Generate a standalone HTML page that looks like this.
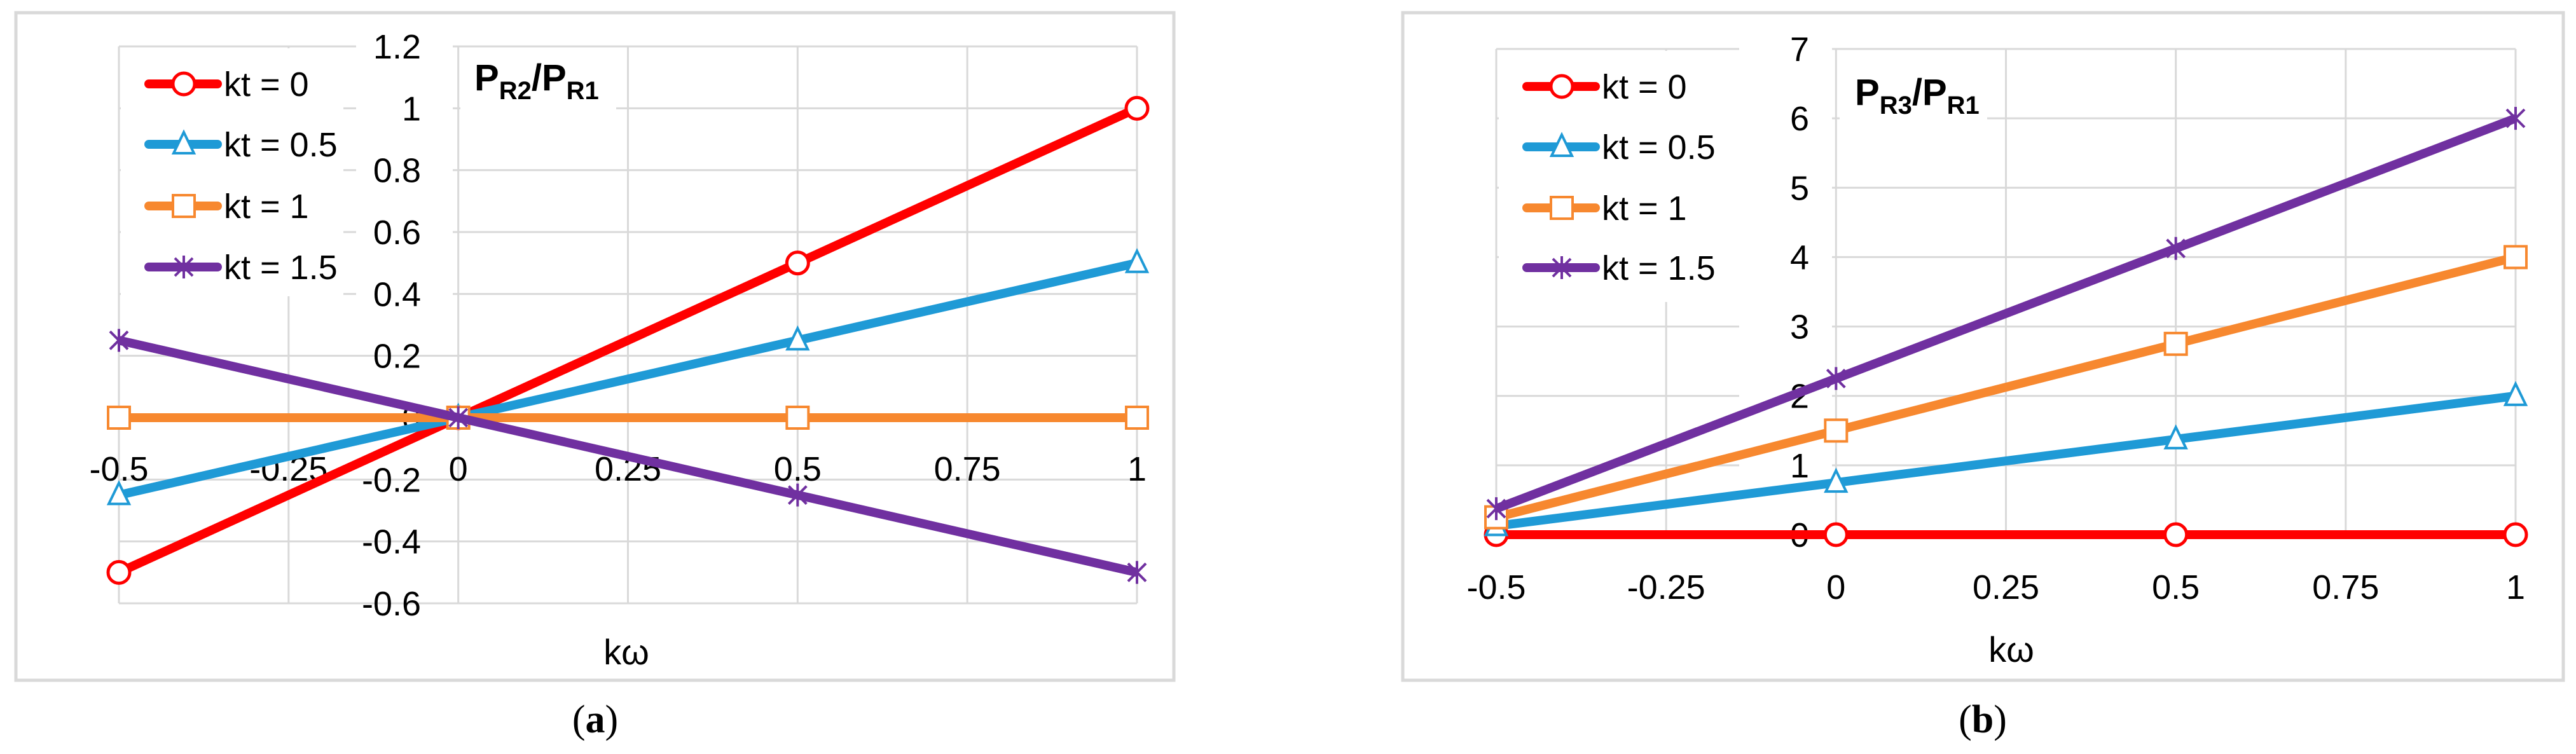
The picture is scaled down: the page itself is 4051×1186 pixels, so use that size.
<!DOCTYPE html>
<html><head><meta charset="utf-8"><style>
html,body{margin:0;padding:0;background:#fff;}
svg{display:block;}
text{font-family:"Liberation Sans",sans-serif;fill:#000;}
</style></head><body>
<svg id="s" width="4051" height="1186" viewBox="0 0 4051 1186" xmlns="http://www.w3.org/2000/svg"></svg>
<script>
// ---- data ----
const xValues = [-0.5, 0, 0.5, 1];
const xTicks = [-0.5, -0.25, 0, 0.25, 0.5, 0.75, 1];
const xTickLabels = ["-0.5","-0.25","0","0.25","0.5","0.75","1"];
const seriesNames = ["kt = 0","kt = 0.5","kt = 1","kt = 1.5"];
const a_kt0 = [-0.5, 0, 0.5, 1];
const a_kt05 = [-0.25, 0, 0.25, 0.5];
const a_kt1 = [0, 0, 0, 0];
const a_kt15 = [0.25, 0, -0.25, -0.5];
const aYTicks = [-0.6,-0.4,-0.2,0,0.2,0.4,0.6,0.8,1,1.2];
const aYTickLabels = ["-0.6","-0.4","-0.2","0","0.2","0.4","0.6","0.8","1","1.2"];
const b_kt0 = [0, 0, 0, 0];
const b_kt05 = [0.125, 0.75, 1.375, 2];
const b_kt1 = [0.25, 1.5, 2.75, 4];
const b_kt15 = [0.375, 2.25, 4.125, 6];
const bYTicks = [0,1,2,3,4,5,6,7];
const bYTickLabels = ["0","1","2","3","4","5","6","7"];

const colors = ["#ff0000","#1f9ad6","#f7882f","#7030a0"];
const markers = ["circle","triangle","square","star"];
const NS = "http://www.w3.org/2000/svg";
const svg = document.getElementById('s');
function el(tag, attrs, parent){
  const e = document.createElementNS(NS, tag);
  for (const k in attrs) e.setAttribute(k, attrs[k]);
  (parent||svg).appendChild(e);
  return e;
}
function marker(type, x, y, color, g){
  let m;
  if (type==="circle") m = el('circle',{cx:x,cy:y,r:17,fill:'#fff',stroke:color,'stroke-width':5},g);
  else if (type==="triangle") m = el('polygon',{points:`${x},${y-19} ${x+16},${y+14} ${x-16},${y+14}`,fill:'#fff',stroke:color,'stroke-width':4},g);
  else if (type==="square") m = el('rect',{x:x-17,y:y-17,width:34,height:34,fill:'#fff',stroke:color,'stroke-width':4},g);
  else {
    m = el('path',{d:`M${x-14},${y-14}L${x+14},${y+14}M${x-14},${y+14}L${x+14},${y-14}M${x},${y-18}L${x},${y+18}`,stroke:color,'stroke-width':4,fill:'none'},g);
  }
  return m;
}

function panel(cfg){
  const {id, bx0, bx1, x0, x1, yMin, yMax, yTop, yBot, yTicks, yTickLabels, series, yLabelX, xLabelY, legendX, legendRows, whiteRects, title, titleX, titleY, xTitleX, xTitleY, capX, cap} = cfg;
  const g = el('g',{});
  
  
  const xs = v => x0 + (v - (-0.5)) / 1.5 * (x1 - x0);
  const ys = v => yBot - (v - yMin) / (yMax - yMin) * (yBot - yTop);
  const border = el('rect',{x:bx0,y:20,width:bx1-bx0,height:1050,fill:'#fff',stroke:'#d9d9d9','stroke-width':5},g);
  
  
  yTicks.forEach(v=>{
    const l = el('line',{x1:x0,x2:x1,y1:ys(v),y2:ys(v),stroke:'#d9d9d9','stroke-width':3},g);
    
    
  });
  xTicks.forEach(v=>{
    const l = el('line',{x1:xs(v),x2:xs(v),y1:yTop,y2:yBot,stroke:'#d9d9d9','stroke-width':3},g);
    
    
  });
  whiteRects.forEach(r=>{ el('rect',{x:r[0],y:r[1],width:r[2],height:r[3],fill:'#fff'},g); });
  yTicks.forEach((v,i)=>{
    const t = el('text',{x:yLabelX,y:ys(v)+19,'text-anchor':'end','font-size':54},g);
    t.textContent = yTickLabels[i];
    
    
  });
  xTicks.forEach((v,i)=>{
    const t = el('text',{x:xs(v),y:xLabelY+19,'text-anchor':'middle','font-size':54},g);
    t.textContent = xTickLabels[i];
    
    
  });
  series.forEach((vals,si)=>{
    const sg = el('g',{},g);
    
    
    const pts = vals.map((v,i)=>xs(xValues[i])+','+ys(v)).join(' ');
    const pl = el('polyline',{points:pts,fill:'none',stroke:colors[si],'stroke-width':14,'stroke-linejoin':'round'},sg);
    
    
    vals.forEach((v,i)=>{
      const m = marker(markers[si], xs(xValues[i]), ys(v), colors[si], sg);
      
      
    });
  });
  seriesNames.forEach((n,si)=>{
    const lg = el('g',{},g);
    
    
    const y = legendRows[si];
    el('line',{x1:legendX,x2:legendX+108,y1:y,y2:y,stroke:colors[si],'stroke-width':14,'stroke-linecap':'round'},lg);
    marker(markers[si], legendX+55, y, colors[si], lg);
    const t = el('text',{x:legendX+118,y:y+19,'font-size':54},lg);
    t.textContent = n;
  });
  const tt = el('text',{x:titleX,y:titleY,'font-size':58,'font-weight':'bold'},g);
  
  
  tt.innerHTML = 'P<tspan font-size="40" dy="14">'+title[0]+'</tspan><tspan dy="-14">/P</tspan><tspan font-size="40" dy="14">'+title[1]+'</tspan>';
  const xt = el('text',{x:xTitleX,y:xTitleY+20,'text-anchor':'middle','font-size':56},g);
  xt.textContent = 'kω';
  
  
  const cp = el('text',{x:capX,y:1152,'text-anchor':'middle','font-size':62,style:'font-family:"Liberation Serif",serif'},g);
  cp.innerHTML = '(<tspan font-weight="bold">'+cap+'</tspan>)';
  
  
}

panel({id:'chart-a', bx0:25, bx1:1846, x0:187, x1:1788, yMin:-0.6, yMax:1.2, yTop:73, yBot:949,
  yTicks:aYTicks, yTickLabels:aYTickLabels, series:[a_kt0,a_kt05,a_kt1,a_kt15],
  yLabelX:662, xLabelY:737, legendX:234, legendRows:[132,227,324,420],
  whiteRects:[[190,76,350,390],[560,60,152,420],[724,76,245,110]],
  title:['R2','R1'], titleX:746, titleY:142, xTitleX:985, xTitleY:1025, capX:936, cap:'a'});

panel({id:'chart-b', bx0:2206, bx1:4031, x0:2353, x1:3956, yMin:0, yMax:7, yTop:77, yBot:841,
  yTicks:bYTicks, yTickLabels:bYTickLabels, series:[b_kt0,b_kt05,b_kt1,b_kt15],
  yLabelX:2845, xLabelY:923, legendX:2401, legendRows:[136,231,327,421],
  whiteRects:[[2357,80,380,395],[2735,60,146,700],[2893,80,232,120]],
  title:['R3','R1'], titleX:2917, titleY:165, xTitleX:3163, xTitleY:1021, capX:3118, cap:'b'});
</script>
</body></html>
